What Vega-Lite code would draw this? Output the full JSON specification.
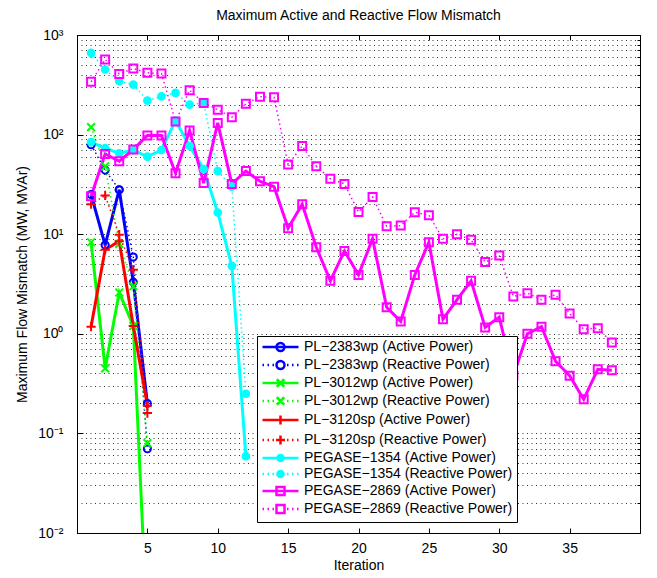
{
  "$schema": "https://vega.github.io/schema/vega-lite/v6.json",
  "width": 563,
  "height": 498,
  "autosize": "none",
  "padding": {"left": 77, "top": 35, "right": 17, "bottom": 45},
  "background": "white",
  "title": {"text": "Maximum Active and Reactive Flow Mismatch", "font": "Liberation Sans", "fontSize": 14, "fontWeight": "normal", "color": "#000", "offset": 5},
  "data": {"values": [
    {"s": "PL−2383wp (Active Power)", "k": "A", "x": 1, "y": 25},
    {"s": "PL−2383wp (Active Power)", "k": "A", "x": 2, "y": 7.8},
    {"s": "PL−2383wp (Active Power)", "k": "A", "x": 3, "y": 28},
    {"s": "PL−2383wp (Active Power)", "k": "A", "x": 4, "y": 3.3},
    {"s": "PL−2383wp (Active Power)", "k": "A", "x": 5, "y": 0.2},
    {"s": "PL−2383wp (Reactive Power)", "k": "R", "x": 1, "y": 79},
    {"s": "PL−2383wp (Reactive Power)", "k": "R", "x": 2, "y": 44},
    {"s": "PL−2383wp (Reactive Power)", "k": "R", "x": 3, "y": 28},
    {"s": "PL−2383wp (Reactive Power)", "k": "R", "x": 4, "y": 5.9},
    {"s": "PL−2383wp (Reactive Power)", "k": "R", "x": 5, "y": 0.07},
    {"s": "PL−3012wp (Active Power)", "k": "A", "x": 1, "y": 8.3},
    {"s": "PL−3012wp (Active Power)", "k": "A", "x": 2, "y": 0.45},
    {"s": "PL−3012wp (Active Power)", "k": "A", "x": 3, "y": 2.6},
    {"s": "PL−3012wp (Active Power)", "k": "A", "x": 4, "y": 1.2},
    {"s": "PL−3012wp (Active Power)", "k": "A", "x": 5, "y": 0.001},
    {"s": "PL−3012wp (Reactive Power)", "k": "R", "x": 1, "y": 119},
    {"s": "PL−3012wp (Reactive Power)", "k": "R", "x": 2, "y": 48},
    {"s": "PL−3012wp (Reactive Power)", "k": "R", "x": 3, "y": 8},
    {"s": "PL−3012wp (Reactive Power)", "k": "R", "x": 4, "y": 3.0},
    {"s": "PL−3012wp (Reactive Power)", "k": "R", "x": 5, "y": 0.08},
    {"s": "PL−3120sp (Active Power)", "k": "A", "x": 1, "y": 1.18},
    {"s": "PL−3120sp (Active Power)", "k": "A", "x": 2, "y": 7.0},
    {"s": "PL−3120sp (Active Power)", "k": "A", "x": 3, "y": 8.5},
    {"s": "PL−3120sp (Active Power)", "k": "A", "x": 4, "y": 1.2},
    {"s": "PL−3120sp (Active Power)", "k": "A", "x": 5, "y": 0.19},
    {"s": "PL−3120sp (Reactive Power)", "k": "R", "x": 1, "y": 20},
    {"s": "PL−3120sp (Reactive Power)", "k": "R", "x": 2, "y": 24.5},
    {"s": "PL−3120sp (Reactive Power)", "k": "R", "x": 3, "y": 9.9},
    {"s": "PL−3120sp (Reactive Power)", "k": "R", "x": 4, "y": 4.4},
    {"s": "PL−3120sp (Reactive Power)", "k": "R", "x": 5, "y": 0.16},
    {"s": "PEGASE−1354 (Active Power)", "k": "A", "x": 1, "y": 84},
    {"s": "PEGASE−1354 (Active Power)", "k": "A", "x": 2, "y": 73},
    {"s": "PEGASE−1354 (Active Power)", "k": "A", "x": 3, "y": 65},
    {"s": "PEGASE−1354 (Active Power)", "k": "A", "x": 4, "y": 70},
    {"s": "PEGASE−1354 (Active Power)", "k": "A", "x": 5, "y": 60},
    {"s": "PEGASE−1354 (Active Power)", "k": "A", "x": 6, "y": 70},
    {"s": "PEGASE−1354 (Active Power)", "k": "A", "x": 7, "y": 138},
    {"s": "PEGASE−1354 (Active Power)", "k": "A", "x": 8, "y": 77},
    {"s": "PEGASE−1354 (Active Power)", "k": "A", "x": 9, "y": 45},
    {"s": "PEGASE−1354 (Active Power)", "k": "A", "x": 10, "y": 16.5},
    {"s": "PEGASE−1354 (Active Power)", "k": "A", "x": 11, "y": 4.8},
    {"s": "PEGASE−1354 (Active Power)", "k": "A", "x": 12, "y": 0.059},
    {"s": "PEGASE−1354 (Reactive Power)", "k": "R", "x": 1, "y": 660},
    {"s": "PEGASE−1354 (Reactive Power)", "k": "R", "x": 2, "y": 450},
    {"s": "PEGASE−1354 (Reactive Power)", "k": "R", "x": 3, "y": 344},
    {"s": "PEGASE−1354 (Reactive Power)", "k": "R", "x": 4, "y": 318},
    {"s": "PEGASE−1354 (Reactive Power)", "k": "R", "x": 5, "y": 219},
    {"s": "PEGASE−1354 (Reactive Power)", "k": "R", "x": 6, "y": 242},
    {"s": "PEGASE−1354 (Reactive Power)", "k": "R", "x": 7, "y": 262},
    {"s": "PEGASE−1354 (Reactive Power)", "k": "R", "x": 8, "y": 200},
    {"s": "PEGASE−1354 (Reactive Power)", "k": "R", "x": 9, "y": 208},
    {"s": "PEGASE−1354 (Reactive Power)", "k": "R", "x": 10, "y": 43},
    {"s": "PEGASE−1354 (Reactive Power)", "k": "R", "x": 11, "y": 30},
    {"s": "PEGASE−1354 (Reactive Power)", "k": "R", "x": 12, "y": 0.25},
    {"s": "PEGASE−2869 (Active Power)", "k": "A", "x": 1, "y": 24},
    {"s": "PEGASE−2869 (Active Power)", "k": "A", "x": 2, "y": 64},
    {"s": "PEGASE−2869 (Active Power)", "k": "A", "x": 3, "y": 54},
    {"s": "PEGASE−2869 (Active Power)", "k": "A", "x": 4, "y": 71},
    {"s": "PEGASE−2869 (Active Power)", "k": "A", "x": 5, "y": 98},
    {"s": "PEGASE−2869 (Active Power)", "k": "A", "x": 6, "y": 98},
    {"s": "PEGASE−2869 (Active Power)", "k": "A", "x": 7, "y": 41},
    {"s": "PEGASE−2869 (Active Power)", "k": "A", "x": 8, "y": 110},
    {"s": "PEGASE−2869 (Active Power)", "k": "A", "x": 9, "y": 32.6},
    {"s": "PEGASE−2869 (Active Power)", "k": "A", "x": 10, "y": 131},
    {"s": "PEGASE−2869 (Active Power)", "k": "A", "x": 11, "y": 32},
    {"s": "PEGASE−2869 (Active Power)", "k": "A", "x": 12, "y": 43},
    {"s": "PEGASE−2869 (Active Power)", "k": "A", "x": 13, "y": 34},
    {"s": "PEGASE−2869 (Active Power)", "k": "A", "x": 14, "y": 30},
    {"s": "PEGASE−2869 (Active Power)", "k": "A", "x": 15, "y": 11.5},
    {"s": "PEGASE−2869 (Active Power)", "k": "A", "x": 16, "y": 20},
    {"s": "PEGASE−2869 (Active Power)", "k": "A", "x": 17, "y": 7.4},
    {"s": "PEGASE−2869 (Active Power)", "k": "A", "x": 18, "y": 3.4},
    {"s": "PEGASE−2869 (Active Power)", "k": "A", "x": 19, "y": 6.8},
    {"s": "PEGASE−2869 (Active Power)", "k": "A", "x": 20, "y": 3.9},
    {"s": "PEGASE−2869 (Active Power)", "k": "A", "x": 21, "y": 9.0},
    {"s": "PEGASE−2869 (Active Power)", "k": "A", "x": 22, "y": 1.85},
    {"s": "PEGASE−2869 (Active Power)", "k": "A", "x": 23, "y": 1.33},
    {"s": "PEGASE−2869 (Active Power)", "k": "A", "x": 24, "y": 3.9},
    {"s": "PEGASE−2869 (Active Power)", "k": "A", "x": 25, "y": 8.3},
    {"s": "PEGASE−2869 (Active Power)", "k": "A", "x": 26, "y": 1.4},
    {"s": "PEGASE−2869 (Active Power)", "k": "A", "x": 27, "y": 2.2},
    {"s": "PEGASE−2869 (Active Power)", "k": "A", "x": 28, "y": 3.4},
    {"s": "PEGASE−2869 (Active Power)", "k": "A", "x": 29, "y": 1.16},
    {"s": "PEGASE−2869 (Active Power)", "k": "A", "x": 30, "y": 1.47},
    {"s": "PEGASE−2869 (Active Power)", "k": "A", "x": 31, "y": 0.38},
    {"s": "PEGASE−2869 (Active Power)", "k": "A", "x": 32, "y": 1.0},
    {"s": "PEGASE−2869 (Active Power)", "k": "A", "x": 33, "y": 1.18},
    {"s": "PEGASE−2869 (Active Power)", "k": "A", "x": 34, "y": 0.53},
    {"s": "PEGASE−2869 (Active Power)", "k": "A", "x": 35, "y": 0.38},
    {"s": "PEGASE−2869 (Active Power)", "k": "A", "x": 36, "y": 0.22},
    {"s": "PEGASE−2869 (Active Power)", "k": "A", "x": 37, "y": 0.44},
    {"s": "PEGASE−2869 (Active Power)", "k": "A", "x": 38, "y": 0.43},
    {"s": "PEGASE−2869 (Reactive Power)", "k": "R", "x": 1, "y": 339},
    {"s": "PEGASE−2869 (Reactive Power)", "k": "R", "x": 2, "y": 567},
    {"s": "PEGASE−2869 (Reactive Power)", "k": "R", "x": 3, "y": 407},
    {"s": "PEGASE−2869 (Reactive Power)", "k": "R", "x": 4, "y": 460},
    {"s": "PEGASE−2869 (Reactive Power)", "k": "R", "x": 5, "y": 417},
    {"s": "PEGASE−2869 (Reactive Power)", "k": "R", "x": 6, "y": 410},
    {"s": "PEGASE−2869 (Reactive Power)", "k": "R", "x": 7, "y": 135},
    {"s": "PEGASE−2869 (Reactive Power)", "k": "R", "x": 8, "y": 279},
    {"s": "PEGASE−2869 (Reactive Power)", "k": "R", "x": 9, "y": 208},
    {"s": "PEGASE−2869 (Reactive Power)", "k": "R", "x": 10, "y": 178},
    {"s": "PEGASE−2869 (Reactive Power)", "k": "R", "x": 11, "y": 149},
    {"s": "PEGASE−2869 (Reactive Power)", "k": "R", "x": 12, "y": 204},
    {"s": "PEGASE−2869 (Reactive Power)", "k": "R", "x": 13, "y": 240},
    {"s": "PEGASE−2869 (Reactive Power)", "k": "R", "x": 14, "y": 237},
    {"s": "PEGASE−2869 (Reactive Power)", "k": "R", "x": 15, "y": 50},
    {"s": "PEGASE−2869 (Reactive Power)", "k": "R", "x": 16, "y": 77},
    {"s": "PEGASE−2869 (Reactive Power)", "k": "R", "x": 17, "y": 48},
    {"s": "PEGASE−2869 (Reactive Power)", "k": "R", "x": 18, "y": 36},
    {"s": "PEGASE−2869 (Reactive Power)", "k": "R", "x": 19, "y": 32},
    {"s": "PEGASE−2869 (Reactive Power)", "k": "R", "x": 20, "y": 16.7},
    {"s": "PEGASE−2869 (Reactive Power)", "k": "R", "x": 21, "y": 23.6},
    {"s": "PEGASE−2869 (Reactive Power)", "k": "R", "x": 22, "y": 12},
    {"s": "PEGASE−2869 (Reactive Power)", "k": "R", "x": 23, "y": 12.2},
    {"s": "PEGASE−2869 (Reactive Power)", "k": "R", "x": 24, "y": 16.6},
    {"s": "PEGASE−2869 (Reactive Power)", "k": "R", "x": 25, "y": 15.5},
    {"s": "PEGASE−2869 (Reactive Power)", "k": "R", "x": 26, "y": 9.0},
    {"s": "PEGASE−2869 (Reactive Power)", "k": "R", "x": 27, "y": 10},
    {"s": "PEGASE−2869 (Reactive Power)", "k": "R", "x": 28, "y": 8.8},
    {"s": "PEGASE−2869 (Reactive Power)", "k": "R", "x": 29, "y": 5.25},
    {"s": "PEGASE−2869 (Reactive Power)", "k": "R", "x": 30, "y": 6.1},
    {"s": "PEGASE−2869 (Reactive Power)", "k": "R", "x": 31, "y": 2.37},
    {"s": "PEGASE−2869 (Reactive Power)", "k": "R", "x": 32, "y": 2.56},
    {"s": "PEGASE−2869 (Reactive Power)", "k": "R", "x": 33, "y": 2.2},
    {"s": "PEGASE−2869 (Reactive Power)", "k": "R", "x": 34, "y": 2.47},
    {"s": "PEGASE−2869 (Reactive Power)", "k": "R", "x": 35, "y": 1.6},
    {"s": "PEGASE−2869 (Reactive Power)", "k": "R", "x": 36, "y": 1.11},
    {"s": "PEGASE−2869 (Reactive Power)", "k": "R", "x": 37, "y": 1.14},
    {"s": "PEGASE−2869 (Reactive Power)", "k": "R", "x": 38, "y": 0.82}
  ]},
  "resolve": {"scale": {"color": "independent", "shape": "independent"}},
  "layer": [
    {
      "mark": {"type": "line", "clip": true},
      "encoding": {
        "x": {"field": "x", "type": "quantitative", "scale": {"domain": [0, 40], "nice": false, "zero": false},
          "axis": {"orient": "bottom", "values": [5, 10, 15, 20, 25, 30, 35], "tickSize": -5, "labelPadding": 13, "grid": false, "title": "Iteration", "titleY": 32, "titleBaseline": "middle", "labelFlush": false}},
        "y": {"field": "y", "type": "quantitative", "scale": {"type": "log", "domain": [0.01, 1000], "nice": false},
          "axis": {"orient": "left", "values": [0.01, 0.1, 1, 10, 100, 1000], "tickSize": -6, "labelPadding": 20, "grid": false, "labelOverlap": false,
            "labelExpr": "datum.value===0.01?'10⁻²':datum.value===0.1?'10⁻¹':datum.value===1?'10⁰':datum.value===10?'10¹':datum.value===100?'10²':'10³'",
            "title": "Maximum Flow Mismatch (MW, MVAr)", "titleX": -55, "titleY": 249, "titleAngle": -90, "titleBaseline": "middle", "titleAlign": "center"}},
        "color": {"field": "s", "type": "nominal", "legend": null,
          "scale": {"domain": ["PL−2383wp (Active Power)", "PL−2383wp (Reactive Power)", "PL−3012wp (Active Power)", "PL−3012wp (Reactive Power)", "PL−3120sp (Active Power)", "PL−3120sp (Reactive Power)", "PEGASE−1354 (Active Power)", "PEGASE−1354 (Reactive Power)", "PEGASE−2869 (Active Power)", "PEGASE−2869 (Reactive Power)"],
            "range": ["#0000FF", "#0000FF", "#00FF00", "#00FF00", "#FF0000", "#FF0000", "#00FFFF", "#00FFFF", "#FF00FF", "#FF00FF"]}},
        "strokeDash": {"field": "k", "type": "nominal", "scale": {"domain": ["A", "R"], "range": [[1, 0], [1.5, 3]]}, "legend": null},
        "strokeWidth": {"field": "k", "type": "nominal", "scale": {"type": "ordinal", "domain": ["A", "R"], "range": [3, 1.5]}, "legend": null},
        "order": {"field": "x"}
      }
    },
    {
      "mark": {"type": "point", "clip": true, "filled": false, "strokeWidth": 2, "opacity": 1},
      "encoding": {
        "x": {"field": "x", "type": "quantitative",
          "axis": {"orient": "top", "values": [5, 10, 15, 20, 25, 30, 35], "tickSize": -5, "labels": false, "grid": false, "title": null}},
        "y": {"field": "y", "type": "quantitative",
          "axis": {"orient": "right", "values": [0.01, 0.02, 0.03, 0.04, 0.05, 0.06, 0.07, 0.08, 0.09, 0.1, 0.2, 0.3, 0.4, 0.5, 0.6, 0.7, 0.8, 0.9, 1, 2, 3, 4, 5, 6, 7, 8, 9, 10, 20, 30, 40, 50, 60, 70, 80, 90, 100, 200, 300, 400, 500, 600, 700, 800, 900, 1000],
            "tickSize": -3, "labels": false, "title": null, "grid": true, "gridDash": [1, 3.5], "gridColor": "#111", "gridOpacity": 0.85, "gridWidth": 1}},
        "stroke": {"field": "s", "type": "nominal", "legend": null,
          "scale": {"domain": ["PL−2383wp (Active Power)", "PL−2383wp (Reactive Power)", "PL−3012wp (Active Power)", "PL−3012wp (Reactive Power)", "PL−3120sp (Active Power)", "PL−3120sp (Reactive Power)", "PEGASE−1354 (Active Power)", "PEGASE−1354 (Reactive Power)", "PEGASE−2869 (Active Power)", "PEGASE−2869 (Reactive Power)"],
            "range": ["#0000FF", "#0000FF", "#00FF00", "#00FF00", "#FF0000", "#FF0000", "#00FFFF", "#00FFFF", "#FF00FF", "#FF00FF"]}},
        "shape": {"field": "s", "type": "nominal", "legend": null,
          "scale": {"domain": ["PL−2383wp (Active Power)", "PL−2383wp (Reactive Power)", "PL−3012wp (Active Power)", "PL−3012wp (Reactive Power)", "PL−3120sp (Active Power)", "PL−3120sp (Reactive Power)", "PEGASE−1354 (Active Power)", "PEGASE−1354 (Reactive Power)", "PEGASE−2869 (Active Power)", "PEGASE−2869 (Reactive Power)"],
            "range": ["circle", "circle", "M-1,-1L1,1M-1,1L1,-1", "M-1,-1L1,1M-1,1L1,-1", "M-1,0L1,0M0,-1L0,1", "M-1,0L1,0M0,-1L0,1", "circle", "circle", "square", "square"]}},
        "fill": {"field": "s", "type": "nominal", "legend": null,
          "scale": {"domain": ["PL−2383wp (Active Power)", "PL−2383wp (Reactive Power)", "PL−3012wp (Active Power)", "PL−3012wp (Reactive Power)", "PL−3120sp (Active Power)", "PL−3120sp (Reactive Power)", "PEGASE−1354 (Active Power)", "PEGASE−1354 (Reactive Power)", "PEGASE−2869 (Active Power)", "PEGASE−2869 (Reactive Power)"],
            "range": ["transparent", "transparent", "transparent", "transparent", "transparent", "transparent", "#00FFFF", "#00FFFF", "transparent", "transparent"]}},
        "size": {"field": "s", "type": "nominal", "legend": null,
          "scale": {"type": "ordinal", "domain": ["PL−2383wp (Active Power)", "PL−2383wp (Reactive Power)", "PL−3012wp (Active Power)", "PL−3012wp (Reactive Power)", "PL−3120sp (Active Power)", "PL−3120sp (Reactive Power)", "PEGASE−1354 (Active Power)", "PEGASE−1354 (Reactive Power)", "PEGASE−2869 (Active Power)", "PEGASE−2869 (Reactive Power)"],
            "range": [50, 50, 60, 60, 85, 85, 45, 45, 64, 64]}}
      }
    },
    {
      "transform": [{"filter": "false"}],
      "mark": {"type": "point", "filled": false, "opacity": 1},
      "encoding": {
        "x": {"field": "x", "type": "quantitative", "axis": null},
        "y": {"field": "y", "type": "quantitative", "axis": null},
        "color": {"field": "s", "type": "nominal",
          "scale": {"domain": ["PL−2383wp (Active Power)", "PL−2383wp (Reactive Power)", "PL−3012wp (Active Power)", "PL−3012wp (Reactive Power)", "PL−3120sp (Active Power)", "PL−3120sp (Reactive Power)", "PEGASE−1354 (Active Power)", "PEGASE−1354 (Reactive Power)", "PEGASE−2869 (Active Power)", "PEGASE−2869 (Reactive Power)"],
            "range": ["#0000FF", "#0000FF", "#00FF00", "#00FF00", "#FF0000", "#FF0000", "#00FFFF", "#00FFFF", "#FF00FF", "#FF00FF"]},
          "legend": {"orient": "none", "legendX": 180, "legendY": 301, "title": null, "fillColor": "white", "strokeColor": "black", "padding": 4,
            "labelFont": "Liberation Sans", "labelFontSize": 14, "labelColor": "#000", "labelLimit": 400,
            "symbolSize": 100, "symbolStrokeWidth": 2.5, "symbolOffset": 12.5, "labelOffset": 16.5, "rowPadding": 0, "symbolOpacity": 1}},
        "shape": {"field": "s", "type": "nominal",
          "scale": {"domain": ["PL−2383wp (Active Power)", "PL−2383wp (Reactive Power)", "PL−3012wp (Active Power)", "PL−3012wp (Reactive Power)", "PL−3120sp (Active Power)", "PL−3120sp (Reactive Power)", "PEGASE−1354 (Active Power)", "PEGASE−1354 (Reactive Power)", "PEGASE−2869 (Active Power)", "PEGASE−2869 (Reactive Power)"],
            "range": [
              "M-3.6,0H3.6M0.8,0A0.8,0.8 0 1 1 -0.8,0A0.8,0.8 0 1 1 0.8,0",
              "M-3.6,0h0.3M-2.6,0h0.3M-1.6,0h0.3M1.3,0h0.3M2.3,0h0.3M3.3,0h0.3M0.8,0A0.8,0.8 0 1 1 -0.8,0A0.8,0.8 0 1 1 0.8,0",
              "M-3.6,0H3.6M-0.75,-0.75L0.75,0.75M-0.75,0.75L0.75,-0.75",
              "M-3.6,0h0.3M-2.6,0h0.3M-1.6,0h0.3M1.3,0h0.3M2.3,0h0.3M3.3,0h0.3M-0.75,-0.75L0.75,0.75M-0.75,0.75L0.75,-0.75",
              "M-3.6,0H3.6M0,-0.9V0.9",
              "M-3.6,0h0.3M-2.6,0h0.3M-1.6,0h0.3M1.3,0h0.3M2.3,0h0.3M3.3,0h0.3M-0.9,0H0.9M0,-0.9V0.9",
              "M-3.6,0H3.6M0.6,0A0.6,0.6 0 1 1 -0.6,0A0.6,0.6 0 1 1 0.6,0M0.2,0A0.2,0.2 0 1 1 -0.2,0A0.2,0.2 0 1 1 0.2,0",
              "M-3.6,0h0.3M-2.6,0h0.3M-1.6,0h0.3M1.3,0h0.3M2.3,0h0.3M3.3,0h0.3M0.6,0A0.6,0.6 0 1 1 -0.6,0A0.6,0.6 0 1 1 0.6,0M0.2,0A0.2,0.2 0 1 1 -0.2,0A0.2,0.2 0 1 1 0.2,0",
              "M-3.6,0H3.6M-0.8,-0.8H0.8V0.8H-0.8Z",
              "M-3.6,0h0.3M-2.6,0h0.3M-1.6,0h0.3M1.3,0h0.3M2.3,0h0.3M3.3,0h0.3M-0.8,-0.8H0.8V0.8H-0.8Z"
            ]},
          "legend": {"orient": "none", "legendX": 180, "legendY": 301, "title": null, "fillColor": "white", "strokeColor": "black", "padding": 4,
            "labelFont": "Liberation Sans", "labelFontSize": 14, "labelColor": "#000", "labelLimit": 400,
            "symbolSize": 100, "symbolStrokeWidth": 2.5, "symbolOffset": 12.5, "labelOffset": 16.5, "rowPadding": 0, "symbolOpacity": 1}}
      }
    }
  ],
  "config": {
    "view": {"stroke": "#000", "strokeWidth": 1},
    "axis": {"labelFont": "Liberation Sans", "titleFont": "Liberation Sans", "labelFontSize": 14, "titleFontSize": 14, "titleFontWeight": "normal", "labelColor": "#000", "titleColor": "#000", "tickColor": "#000", "domainColor": "#000", "domainWidth": 1, "tickWidth": 1}
  }
}
